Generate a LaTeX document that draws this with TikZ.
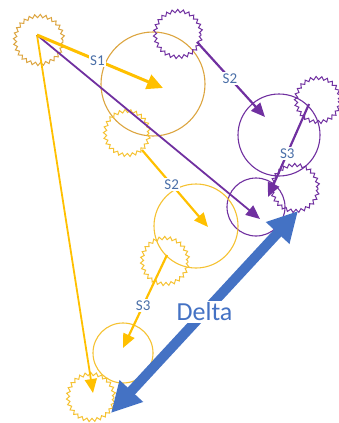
\documentclass[tikz,border=0pt]{standalone}
\usepackage{fontspec}
\setmainfont{Carlito}
\usetikzlibrary{arrows.meta,decorations.pathmorphing}
\definecolor{golddark}{HTML}{DCA540}
\definecolor{amber}{HTML}{FFC000}
\definecolor{amberring}{HTML}{F5C232}
\definecolor{violet}{HTML}{7030A0}
\definecolor{deltablue}{HTML}{4472C4}
\definecolor{labelblue}{HTML}{4A6FA8}
\tikzset{
  ring/.style={draw=#1, line width=1.1pt},
  burst/.style={draw=#1, line width=1pt, decorate,
    decoration={zigzag, segment length=5.4pt, amplitude=1.6pt}},
  steparrow/.style={draw=#1, line width=2.2pt,
    -{Triangle[length=14pt,width=12pt]}},
  longarrow/.style={draw=#1, line width=1.8pt,
    -{Triangle[length=14pt,width=12pt]}},
  lbl/.style={fill=white, inner sep=1.5pt, text=labelblue,
    font=\fontsize{15}{18}\selectfont},
}
\begin{document}
\begin{tikzpicture}[x=1pt,y=-1pt]
\useasboundingbox (0,0) rectangle (339,423);

% positions: start, rings and bursts
\coordinate (o)  at (39,40);
\coordinate (c1) at (153,84);
\coordinate (p1) at (178,34);
\coordinate (c2) at (279,135);
\coordinate (p2) at (318,100);
\coordinate (c3) at (256,207);
\coordinate (p3) at (295,188);
\coordinate (y1) at (127,133);
\coordinate (c4) at (196,226);
\coordinate (y2) at (165,261);
\coordinate (c5) at (123,353);
\coordinate (y3) at (91,397);

% arrow end points
\coordinate (src)  at (37,35);
\coordinate (s1e)  at (163,88);
\coordinate (ps2a) at (197,42);
\coordinate (ps2b) at (265,117);
\coordinate (ps3a) at (309,104);
\coordinate (ps3b) at (268,197);
\coordinate (plong) at (260,219);
\coordinate (ys2a) at (142,150);
\coordinate (ys2b) at (208,227);
\coordinate (ys3a) at (167,255);
\coordinate (ys3b) at (123,348);
\coordinate (ylong) at (93,393);
\coordinate (da) at (111,413);
\coordinate (db) at (298,211);

% gold start
\draw[burst=golddark] (o) circle[radius=24pt];
\draw[ring=golddark] (c1) circle[radius=52pt];

% purple chain
\draw[burst=violet] (p1) circle[radius=23pt];
\draw[ring=violet] (c2) circle[radius=41pt];
\draw[burst=violet] (p2) circle[radius=22pt];
\draw[ring=violet] (c3) circle[radius=29pt];
\draw[burst=violet] (p3) circle[radius=23pt];

% yellow chain
\draw[burst=amberring] (y1) circle[radius=22pt];
\draw[ring=amberring] (c4) circle[radius=42pt];
\draw[burst=amberring] (y2) circle[radius=23pt];
\draw[ring=amberring] (c5) circle[radius=30pt];
\draw[burst=amberring] (y3) circle[radius=23pt];

% long arrows from the start
\draw[longarrow=amber] (src) -- (ylong);
\draw[longarrow=violet] (src) -- (plong);

% steps
\draw[draw=amber, line width=3pt, -{Triangle[length=16pt,width=15pt]}]
  (src) -- node[lbl, pos=0.48] {S1} (s1e);
\draw[steparrow=violet] (ps2a) -- node[lbl, pos=0.485] {S2} (ps2b);
\draw[steparrow=violet] (ps3a) -- node[lbl, pos=0.53] {S3} (ps3b);
\draw[steparrow=amber] (ys2a) -- node[lbl, pos=0.45] {S2} (ys2b);
\draw[steparrow=amber] (ys3a) -- node[lbl, pos=0.54] {S3} (ys3b);

% delta
\draw[draw=deltablue, line width=10pt,
  {Triangle[length=30pt,width=30pt]}-{Triangle[length=30pt,width=30pt]}]
  (da) -- node[fill=white, inner sep=2pt, text=deltablue,
    font=\fontsize{26}{30}\selectfont] {Delta} (db);
\end{tikzpicture}
\end{document}
